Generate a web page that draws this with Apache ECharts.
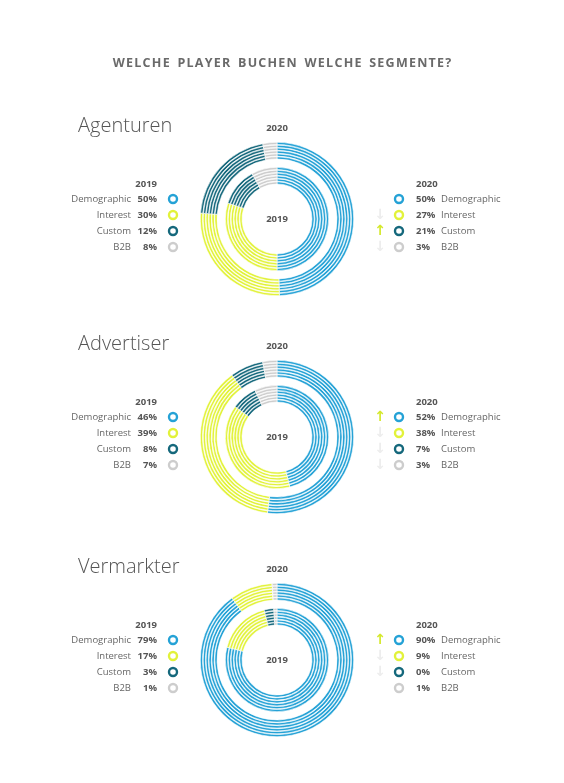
<!DOCTYPE html>
<html><head><meta charset="utf-8">
<script src="https://cdn.jsdelivr.net/npm/echarts@6/dist/echarts.min.js"></script>
<style>html,body{margin:0;padding:0;background:#fff}#c{width:564px;height:783px}</style>
</head><body><div id="c"></div>
<script>
const categories = ['Demographic','Interest','Custom','B2B'];
const groups = ['Agenturen','Advertiser','Vermarkter'];
const values2019 = [[50,30,12,8],[46,39,8,7],[79,17,3,1]];
const values2020 = [[50,27,21,3],[52,38,7,3],[90,9,0,1]];
const colors = ['#25a2d6','#e2f23a','#15687c','#cdcdcd'];
const centersY = [219,437,660];
const cx = 277;
const series = [], graphic = [];
const font = '"Open Sans", sans-serif';
function rings(vals, rIn, cy) {
  for (let k = 0; k < 6; k++) {
    const r0 = rIn + k * 2.9;
    series.push({type:'pie', center:[cx,cy], radius:[r0, r0+2.2], startAngle:90, clockwise:true,
      silent:true, label:{show:false}, labelLine:{show:false}, animation:false,
      itemStyle:{borderColor:'#fff', borderWidth:0.6},
      data: vals.map((v,i)=>({value:v, name:categories[i], itemStyle:{color:colors[i]}}))});
  }
}
graphic.push({type:'text', left:'center', top:57, style:{text:'W E L C H E   P L A Y E R   B U C H E N   W E L C H E   S E G M E N T E ?'.replace(/ (?! )/g,'\u200A').replace(/   /g,'  '), font:'bold 12.5px '+font, fill:'#6a6a6a'}});
groups.forEach((g, gi) => {
  const cy = centersY[gi];
  rings(values2020[gi], 60, cy);
  rings(values2019[gi], 35, cy);
  graphic.push({type:'text', x:78, y:cy-103, style:{text:g, font:'300 20px '+font, fill:'#555'}});
  graphic.push({type:'text', x:cx, y:cy-91, style:{text:'2020', font:'bold 9.5px '+font, fill:'#555', align:'center', verticalAlign:'middle'}});
  graphic.push({type:'text', x:cx, y:cy, style:{text:'2019', font:'bold 9.5px '+font, fill:'#555', align:'center', verticalAlign:'middle'}});
  graphic.push({type:'text', x:157, y:cy-35, style:{text:'2019', font:'bold 9.5px '+font, fill:'#555', align:'right', verticalAlign:'middle'}});
  graphic.push({type:'text', x:416, y:cy-35, style:{text:'2020', font:'bold 9.5px '+font, fill:'#555', align:'left', verticalAlign:'middle'}});
  categories.forEach((c, i) => {
    const y = cy - 20 + i * 16;
    graphic.push({type:'text', x:131, y, style:{text:c, font:'9.5px '+font, fill:'#666', align:'right', verticalAlign:'middle'}});
    graphic.push({type:'text', x:157, y, style:{text:values2019[gi][i]+'%', font:'bold 9.5px '+font, fill:'#555', align:'right', verticalAlign:'middle'}});
    graphic.push({type:'circle', shape:{cx:173, cy:y, r:4}, style:{fill:'none', stroke:colors[i], lineWidth:2.4}});
    graphic.push({type:'circle', shape:{cx:399, cy:y, r:4}, style:{fill:'none', stroke:colors[i], lineWidth:2.4}});
    graphic.push({type:'text', x:416, y, style:{text:values2020[gi][i]+'%', font:'bold 9.5px '+font, fill:'#555', align:'left', verticalAlign:'middle'}});
    graphic.push({type:'text', x:441, y, style:{text:c, font:'9.5px '+font, fill:'#666', align:'left', verticalAlign:'middle'}});
    const d = values2020[gi][i] - values2019[gi][i];
    if (d !== 0) graphic.push({type:'text', x:380, y, style:{text:d>0?'↑':'↓', font:'bold 14px "DejaVu Sans"', fill:d>0?'#d4e82a':'#ededed', align:'center', verticalAlign:'middle'}});
  });
});
const chart = echarts.init(document.getElementById('c'));
chart.setOption({animation:false, series, graphic});
</script></body></html>
